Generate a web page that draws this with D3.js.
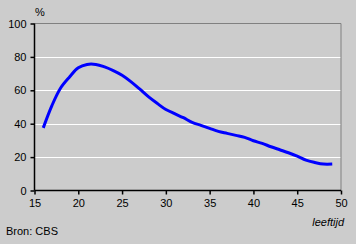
<!DOCTYPE html>
<html>
<head>
<meta charset="utf-8">
<script src="https://cdn.jsdelivr.net/npm/d3@7"></script>
<style>
  body { margin: 0; background: #cccccc; }
  svg { display: block; font-family: Arial, "Liberation Sans", sans-serif; }
</style>
</head>
<body>
<div id="chart"></div>
<script>
  // age (leeftijd) and share in %
  let ages = [16, 17, 18, 19, 20, 21, 22, 23, 24, 25, 26, 27, 28, 29, 30, 31, 32,
              33, 34, 35, 36, 37, 38, 39, 40, 41, 42, 43, 44, 45, 46, 47, 48, 49];
  let pct = [37.5, 51, 61.5, 68, 73.5, 75.5, 75.5, 74, 71.8, 69, 65.2, 60.8, 56.2, 52.2, 48.5, 46, 43.6,
             40.8, 39, 37.2, 35.4, 34.2, 33, 31.8, 29.8, 28.2, 26.2, 24.4, 22.6, 20.6, 18.2, 16.8, 15.8, 15.8];
  let xTicks = [15, 20, 25, 30, 35, 40, 45, 50];
  let yTicks = [0, 20, 40, 60, 80, 100];

  let width = 356, height = 244,
      plotL = 34.5, plotR = 341, plotT = 23.5, plotB = 190.5;

  let svg = d3.select('#chart')
    .append('svg')
    .attr('width', width)
    .attr('height', height);

  svg.append('rect')
    .attr('width', width).attr('height', height)
    .attr('fill', '#cccccc');

  let x = d3.scaleLinear().domain([15, 50]).range([plotL, plotR]);
  let y = d3.scaleLinear().domain([0, 100]).range([plotB, plotT]);

  // white gridlines
  svg.selectAll('.grid')
    .data(yTicks.filter(function(d) { return d > 0 && d < 100; }))
    .enter().append('line')
      .attr('x1', plotL).attr('x2', plotR)
      .attr('y1', function(d) { return Math.round(y(d)) + 0.5; })
      .attr('y2', function(d) { return Math.round(y(d)) + 0.5; })
      .attr('stroke', '#ffffff');

  // grey frame top and right
  svg.append('path')
    .attr('d', 'M' + plotL + ',' + plotT + 'H' + plotR + 'V' + plotB)
    .attr('fill', 'none')
    .attr('stroke', '#808080');

  let xAxis = svg.append('g')
    .attr('transform', 'translate(0,' + plotB + ')')
    .call(d3.axisBottom(x).tickValues(xTicks).tickSize(4).tickPadding(5));

  let yAxis = svg.append('g')
    .attr('transform', 'translate(' + plotL + ',0)')
    .call(d3.axisLeft(y).tickValues(yTicks).tickSize(4).tickPadding(4));

  [xAxis, yAxis].forEach(function(g) {
    g.select('.domain').attr('stroke', '#000').attr('stroke-width', 1.5);
    g.selectAll('.tick line').attr('stroke', '#000').attr('stroke-width', 1.5);
    g.selectAll('text')
      .attr('fill', '#000')
      .style('font-size', '11px')
      .style('font-family', 'Arial, "Liberation Sans", sans-serif');
  });
  xAxis.select('.domain').attr('d', 'M' + plotL + ',0H' + plotR);
  yAxis.select('.domain').attr('d', 'M0,' + plotT + 'V' + plotB);

  let line = d3.line()
    .x(function(d, i) { return x(ages[i]); })
    .y(function(d) { return y(d); })
    .curve(d3.curveCatmullRom);

  svg.append('path')
    .datum(pct)
    .attr('d', line)
    .attr('fill', 'none')
    .attr('stroke', '#0000ff')
    .attr('stroke-width', 3);

  svg.append('text')
    .attr('x', 35).attr('y', 16)
    .style('font-size', '11px')
    .text('%');

  svg.append('text')
    .attr('x', 344).attr('y', 226)
    .attr('text-anchor', 'end')
    .style('font-size', '11px')
    .style('font-style', 'italic')
    .text('leeftijd');

  svg.append('text')
    .attr('x', 6).attr('y', 235)
    .style('font-size', '11px')
    .text('Bron: CBS');
</script>
</body>
</html>
